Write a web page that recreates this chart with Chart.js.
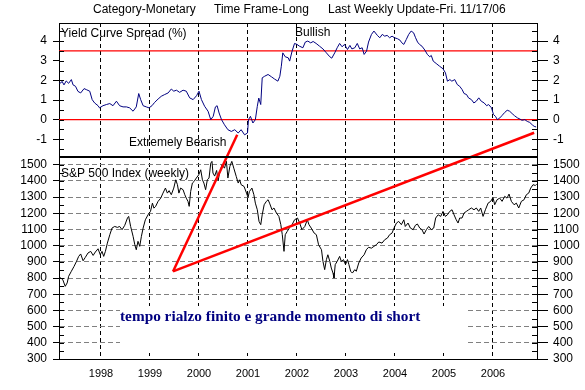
<!DOCTYPE html>
<html>
<head>
<meta charset="utf-8">
<script src="https://cdn.jsdelivr.net/npm/chart.js@4.4.1/dist/chart.umd.min.js"></script>
<style>
  html, body { margin: 0; padding: 0; background: #fff; }
</style>
</head>
<body>
<canvas id="chart" width="585" height="390"></canvas>
<script>
// x range in decimal years
const X_MIN = 1997.143;
const X_MAX = 2006.898;

const yearTicks = [1998, 1999, 2000, 2001, 2002, 2003, 2004, 2005, 2006];

const spreadTickValues = [-1.5, -1, -0.5, 0, 0.5, 1, 1.5, 2, 2.5, 3, 3.5, 4, 4.5];
const spxTickValues = [300, 350, 400, 450, 500, 550, 600, 650, 700, 750, 800, 850, 900, 950,
  1000, 1050, 1100, 1150, 1200, 1250, 1300, 1350, 1400, 1450, 1500];

// red reference levels on the spread panel (%)
const spreadLevels = [3.5, 0];

// hand drawn trend lines, in S&P points
const fastTrend = [[1999.47, 841], [2000.78, 1685]];
const slowTrend = [[1999.47, 841], [2006.84, 1698]];

// Yield Curve Spread (%), [year, value]
const spreadWeekly = [
  [1997.15, 1.85], [1997.18, 1.87], [1997.205, 1.95], [1997.245, 1.77], [1997.29, 1.97],
  [1997.34, 1.85], [1997.395, 2.04], [1997.43, 1.77], [1997.48, 1.70], [1997.53, 1.44],
  [1997.585, 1.36], [1997.655, 1.58], [1997.70, 1.53], [1997.77, 1.45], [1997.82, 1.02],
  [1997.87, 0.85], [1997.94, 0.71], [1997.97, 0.60], [1998.04, 0.71], [1998.11, 0.77],
  [1998.18, 0.82], [1998.245, 0.71], [1998.315, 0.94], [1998.38, 0.71], [1998.45, 0.65],
  [1998.52, 0.65], [1998.585, 0.60], [1998.655, 0.43], [1998.72, 0.65], [1998.77, 1.33],
  [1998.81, 1.02], [1998.86, 0.71], [1998.925, 0.65], [1998.98, 0.60], [1999.04, 0.71],
  [1999.095, 0.88], [1999.165, 1.05], [1999.23, 1.19], [1999.30, 1.28], [1999.37, 1.36],
  [1999.435, 1.56], [1999.485, 1.45], [1999.54, 1.50], [1999.605, 1.39], [1999.675, 1.50],
  [1999.74, 1.45], [1999.81, 1.11], [1999.88, 1.02], [1999.95, 1.22], [2000.00, 1.45],
  [2000.05, 1.02], [2000.115, 0.68], [2000.185, 0.43], [2000.24, 0.00], [2000.29, 0.17],
  [2000.335, 0.65], [2000.37, 0.71], [2000.41, 0.34], [2000.46, 0.00], [2000.52, -0.26],
  [2000.59, -0.51], [2000.66, -0.60], [2000.73, -0.51], [2000.80, -0.68], [2000.86, -0.51],
  [2000.93, -0.77], [2000.99, -0.68], [2001.01, 0.00], [2001.05, 0.17], [2001.10, -0.17],
  [2001.15, 0.00], [2001.19, 0.68], [2001.22, 1.10], [2001.26, 0.77], [2001.29, 2.13],
  [2001.34, 2.21], [2001.41, 2.30], [2001.48, 2.18], [2001.54, 2.07], [2001.61, 1.96],
  [2001.65, 2.21], [2001.68, 2.72], [2001.71, 3.40], [2001.76, 3.20], [2001.82, 3.15],
  [2001.85, 2.98], [2001.90, 3.49], [2001.95, 3.88], [2002.00, 3.83], [2002.05, 3.74],
  [2002.12, 3.66], [2002.17, 3.95], [2002.22, 4.00], [2002.28, 3.91], [2002.33, 3.98],
  [2002.39, 3.88], [2002.46, 3.74], [2002.53, 3.60], [2002.60, 3.40], [2002.67, 3.20],
  [2002.71, 3.13], [2002.77, 3.40], [2002.82, 3.66], [2002.87, 3.88], [2002.92, 3.71],
  [2002.97, 3.83], [2003.03, 3.57], [2003.08, 3.78], [2003.12, 3.60], [2003.18, 3.66],
  [2003.23, 3.88], [2003.28, 3.60], [2003.33, 3.66], [2003.37, 3.32], [2003.42, 3.49],
  [2003.46, 3.95], [2003.52, 4.34], [2003.57, 4.51], [2003.64, 4.29], [2003.69, 4.17],
  [2003.74, 4.34], [2003.79, 4.25], [2003.84, 4.29], [2003.89, 4.17], [2003.94, 4.25],
  [2003.99, 4.17], [2004.05, 4.12], [2004.10, 4.05], [2004.14, 3.91], [2004.18, 3.83],
  [2004.23, 4.08], [2004.28, 4.34], [2004.33, 4.51], [2004.38, 4.42], [2004.42, 4.17],
  [2004.46, 3.95], [2004.50, 3.83], [2004.55, 3.74], [2004.61, 3.54], [2004.66, 3.32],
  [2004.71, 3.20], [2004.74, 3.27], [2004.78, 2.98], [2004.84, 2.86], [2004.91, 2.72],
  [2004.98, 2.59], [2005.03, 2.38], [2005.07, 1.96], [2005.12, 2.04], [2005.16, 1.96],
  [2005.22, 2.04], [2005.27, 1.79], [2005.32, 1.70], [2005.37, 1.53], [2005.41, 1.33],
  [2005.46, 1.28], [2005.50, 1.11], [2005.56, 1.02], [2005.61, 0.85], [2005.66, 0.94],
  [2005.71, 1.11], [2005.76, 0.94], [2005.82, 0.85], [2005.87, 0.71], [2005.91, 0.77],
  [2005.97, 0.60], [2006.01, 0.26], [2006.05, 0.17], [2006.09, 0.00], [2006.14, 0.09],
  [2006.18, 0.20], [2006.24, 0.37], [2006.29, 0.48], [2006.34, 0.43], [2006.39, 0.31],
  [2006.44, 0.20], [2006.50, 0.09], [2006.55, 0.03], [2006.59, -0.03], [2006.65, 0.00],
  [2006.70, -0.09], [2006.75, -0.14], [2006.80, -0.26], [2006.84, -0.34], [2006.88, -0.37]
];

// S&P 500 Index (weekly), [year, close]
const spxWeekly = [
  [1997.15, 805], [1997.18, 800], [1997.22, 790], [1997.27, 749], [1997.31, 770],
  [1997.34, 811], [1997.395, 842], [1997.45, 872], [1997.50, 903], [1997.545, 934],
  [1997.585, 949], [1997.635, 907], [1997.68, 928], [1997.735, 955], [1997.79, 965],
  [1997.84, 940], [1997.885, 961], [1997.94, 981], [1997.985, 944], [1998.02, 965],
  [1998.055, 934], [1998.09, 965], [1998.13, 1016], [1998.18, 1068], [1998.225, 1109],
  [1998.28, 1119], [1998.335, 1113], [1998.38, 1119], [1998.43, 1099], [1998.485, 1126],
  [1998.54, 1171], [1998.565, 1181], [1998.605, 1119], [1998.655, 1058], [1998.69, 1006],
  [1998.72, 975], [1998.755, 1027], [1998.79, 996], [1998.825, 1058], [1998.86, 1109],
  [1998.905, 1160], [1998.96, 1191], [1999.01, 1212], [1999.05, 1263], [1999.08, 1232],
  [1999.115, 1243], [1999.165, 1274], [1999.22, 1294], [1999.265, 1325], [1999.315, 1356],
  [1999.355, 1325], [1999.39, 1340], [1999.435, 1315], [1999.485, 1356], [1999.525, 1407],
  [1999.56, 1377], [1999.59, 1325], [1999.625, 1356], [1999.675, 1346], [1999.71, 1315],
  [1999.74, 1294], [1999.775, 1274], [1999.80, 1243], [1999.83, 1335], [1999.865, 1387],
  [1999.90, 1397], [1999.945, 1418], [1999.995, 1438], [2000.035, 1469], [2000.07, 1407],
  [2000.10, 1387], [2000.135, 1346], [2000.17, 1407], [2000.205, 1418], [2000.24, 1510],
  [2000.265, 1521], [2000.285, 1449], [2000.32, 1430], [2000.36, 1465], [2000.39, 1400],
  [2000.42, 1449], [2000.47, 1500], [2000.52, 1479], [2000.56, 1521], [2000.59, 1418],
  [2000.63, 1490], [2000.67, 1521], [2000.71, 1479], [2000.76, 1428], [2000.80, 1387],
  [2000.83, 1407], [2000.86, 1377], [2000.92, 1366], [2000.97, 1325], [2001.00, 1298],
  [2001.03, 1335], [2001.08, 1356], [2001.12, 1315], [2001.15, 1263], [2001.19, 1222],
  [2001.225, 1150], [2001.26, 1130], [2001.29, 1191], [2001.33, 1253], [2001.375, 1274],
  [2001.41, 1284], [2001.44, 1263], [2001.49, 1222], [2001.53, 1233], [2001.58, 1202],
  [2001.63, 1181], [2001.67, 1130], [2001.70, 1068], [2001.735, 965], [2001.76, 1068],
  [2001.80, 1088], [2001.85, 1113], [2001.90, 1130], [2001.95, 1160], [2002.01, 1171],
  [2002.055, 1140], [2002.10, 1099], [2002.16, 1119], [2002.21, 1160], [2002.245, 1130],
  [2002.29, 1109], [2002.35, 1078], [2002.395, 1068], [2002.44, 1006], [2002.50, 975],
  [2002.53, 903], [2002.565, 852], [2002.60, 914], [2002.63, 944], [2002.67, 903],
  [2002.70, 862], [2002.735, 831], [2002.755, 800], [2002.78, 883], [2002.82, 903],
  [2002.87, 934], [2002.905, 903], [2002.95, 914], [2002.99, 883], [2003.03, 914],
  [2003.06, 883], [2003.095, 842], [2003.13, 831], [2003.18, 852], [2003.21, 842],
  [2003.26, 893], [2003.31, 924], [2003.37, 944], [2003.415, 975], [2003.46, 990],
  [2003.52, 985], [2003.57, 996], [2003.62, 1006], [2003.67, 1023], [2003.735, 1016],
  [2003.79, 1037], [2003.845, 1047], [2003.89, 1068], [2003.94, 1078], [2003.98, 1109],
  [2004.03, 1140], [2004.076, 1150], [2004.13, 1130], [2004.18, 1160], [2004.21, 1119],
  [2004.266, 1140], [2004.314, 1109], [2004.37, 1099], [2004.416, 1126], [2004.457, 1134],
  [2004.505, 1109], [2004.55, 1099], [2004.593, 1072], [2004.64, 1099], [2004.688, 1119],
  [2004.742, 1099], [2004.79, 1109], [2004.83, 1171], [2004.88, 1191], [2004.933, 1181],
  [2004.98, 1212], [2005.028, 1181], [2005.07, 1191], [2005.117, 1212], [2005.164, 1222],
  [2005.205, 1191], [2005.25, 1160], [2005.287, 1140], [2005.32, 1171], [2005.368, 1171],
  [2005.41, 1202], [2005.457, 1212], [2005.504, 1222], [2005.559, 1233], [2005.613, 1222],
  [2005.66, 1233], [2005.708, 1212], [2005.749, 1233], [2005.797, 1181], [2005.845, 1222],
  [2005.90, 1263], [2005.953, 1274], [2006.00, 1298], [2006.035, 1253], [2006.083, 1284],
  [2006.137, 1294], [2006.185, 1274], [2006.239, 1305], [2006.287, 1294], [2006.327, 1319],
  [2006.375, 1274], [2006.43, 1253], [2006.477, 1263], [2006.525, 1233], [2006.579, 1274],
  [2006.634, 1284], [2006.681, 1315], [2006.729, 1325], [2006.77, 1356], [2006.817, 1377],
  [2006.865, 1372], [2006.89, 1380]
];

const SANS = "'Liberation Sans', Arial, sans-serif";
const SERIF = "'Liberation Serif', 'Times New Roman', serif";

const toPoints = (pairs) => pairs.map(([x, y]) => ({ x, y }));
const isInt = (v) => Math.abs(v - Math.round(v)) < 1e-9;
const clear = 'rgba(0,0,0,0)';

/**
 * Builds the options for one of the stacked value axes
 */
function valueAxis(position, stackWeight, weight, min, max, tickValues, isMajor, extra) {
  const left = position === 'left';
  return Object.assign({
    type: 'linear',
    position,
    stack: position,
    stackWeight,
    weight,
    min,
    max,
    afterBuildTicks(scale) {
      scale.ticks = tickValues.map((value) => ({ value }));
    },
    afterFit(scale) {
      scale.width = left ? 59 : 48;
    },
    ticks: {
      autoSkip: false,
      padding: left ? 6 : 5,
      color: '#000',
      font: { family: SANS, size: 12 },
      callback: (v) => (isMajor(v) ? String(v) : '')
    },
    grid: {
      drawOnChartArea: false,
      tickLength: left ? 6 : 11,
      tickColor: (ctx) => (ctx.tick && isMajor(ctx.tick.value) ? '#000' : clear)
    },
    border: { color: '#000', width: 1 }
  }, extra || {});
}

const spreadMajor = (v) => isInt(v);
const spxMajor = (v) => v % 100 === 0;

const decorPlugin = {
  id: 'decor',
  beforeDatasetsDraw(chart) {
    const { ctx } = chart;
    // white panel behind the comment hides the grid
    ctx.save();
    ctx.fillStyle = '#fff';
    ctx.fillRect(120, 306, 348, 47);
    ctx.restore();
  },
  afterDatasetsDraw(chart) {
    const { ctx, chartArea: a, scales } = chart;
    ctx.save();

    // inner tick marks on both sides
    ctx.strokeStyle = '#000';
    ctx.lineWidth = 1;
    ctx.beginPath();
    for (const id of ['yTop', 'yBot']) {
      const scale = scales[id];
      for (const t of scale.ticks) {
        const y = Math.round(scale.getPixelForValue(t.value)) + 0.5;
        ctx.moveTo(a.left, y);
        ctx.lineTo(a.left + 5, y);
        ctx.moveTo(a.right - 5, y);
        ctx.lineTo(a.right, y);
      }
    }
    // top frame
    ctx.moveTo(a.left, Math.round(a.top) + 0.5);
    ctx.lineTo(a.right, Math.round(a.top) + 0.5);
    ctx.stroke();

    // thick separator between the panels
    ctx.beginPath();
    ctx.lineWidth = 2;
    const sep = Math.round(scales.yTop.bottom);
    ctx.moveTo(a.left, sep);
    ctx.lineTo(a.right, sep);
    ctx.stroke();

    // texts
    ctx.fillStyle = '#000';
    ctx.textBaseline = 'middle';
    ctx.textAlign = 'left';
    ctx.font = `12px ${SANS}`;
    ctx.fillText('Category-Monetary', 93, 10);
    ctx.fillText('Time Frame-Long', 214, 10);
    ctx.fillText('Last Weekly Update-Fri. 11/17/06', 328, 10);
    ctx.fillText('Yield Curve Spread (%)', 61, 34);
    ctx.fillText('Bullish', 295, 33);
    ctx.fillText('Extremely Bearish', 129, 143);
    ctx.fillText('S&P 500 Index (weekly)', 61, 174);

    ctx.fillStyle = '#000080';
    ctx.font = `bold 15.3px ${SERIF}`;
    ctx.fillText('tempo rialzo finito e grande momento di short', 120, 317);
    ctx.restore();
  }
};

const levelDatasets = spreadLevels.map((level) => ({
  label: `level ${level}`,
  data: [{ x: X_MIN, y: level }, { x: X_MAX, y: level }],
  yAxisID: 'yTop',
  borderColor: '#ff0000',
  borderWidth: 1.3,
  order: 3
}));

new Chart(document.getElementById('chart'), {
  type: 'line',
  data: {
    datasets: [
      {
        label: 'trend fast',
        data: toPoints(fastTrend),
        yAxisID: 'yBot',
        borderColor: '#ff0000',
        borderWidth: 2.5,
        clip: false,
        order: 0
      },
      {
        label: 'trend slow',
        data: toPoints(slowTrend),
        yAxisID: 'yBot',
        borderColor: '#ff0000',
        borderWidth: 2.5,
        clip: false,
        order: 0
      },
      ...levelDatasets,
      {
        label: 'Yield Curve Spread (%)',
        data: toPoints(spreadWeekly),
        yAxisID: 'yTop',
        borderColor: '#000080',
        borderWidth: 1,
        order: 2
      },
      {
        label: 'S&P 500 Index (weekly)',
        data: toPoints(spxWeekly),
        yAxisID: 'yBot',
        borderColor: '#000',
        borderWidth: 1,
        order: 2
      }
    ]
  },
  options: {
    responsive: false,
    animation: false,
    events: [],
    layout: { padding: { top: 23, left: 0, right: 0, bottom: 0 } },
    elements: {
      point: { radius: 0 },
      line: { tension: 0, fill: false }
    },
    plugins: {
      legend: { display: false },
      tooltip: { enabled: false },
      title: { display: false }
    },
    scales: {
      x: {
        type: 'linear',
        min: X_MIN,
        max: X_MAX,
        afterBuildTicks(scale) {
          scale.ticks = yearTicks.map((value) => ({ value }));
        },
        afterFit(scale) {
          scale.height = 31;
        },
        ticks: {
          autoSkip: false,
          maxRotation: 0,
          padding: 8,
          color: '#000',
          font: { family: SANS, size: 11 },
          callback: (v) => String(v)
        },
        grid: { color: '#000', lineWidth: 1, drawTicks: false },
        border: { color: '#000', dash: [4, 3] }
      },
      yBot: valueAxis('left', 202, 1, 300, 1548, spxTickValues, spxMajor, {
        grid: {
          drawOnChartArea: true,
          tickLength: 6,
          color: (ctx) => (ctx.tick && spxMajor(ctx.tick.value) && ctx.tick.value > 300 ? '#808080' : clear),
          tickColor: (ctx) => (ctx.tick && spxMajor(ctx.tick.value) ? '#000' : clear)
        },
        border: { color: '#000', width: 1, dash: [5, 3] }
      }),
      yTop: valueAxis('left', 134, 2, -1.9, 4.92, spreadTickValues, spreadMajor),
      yTopR: valueAxis('right', 134, 1, -1.9, 4.92, spreadTickValues, spreadMajor),
      yBotR: valueAxis('right', 202, 2, 300, 1548, spxTickValues, spxMajor)
    }
  },
  plugins: [decorPlugin]
});
</script>
</body>
</html>
